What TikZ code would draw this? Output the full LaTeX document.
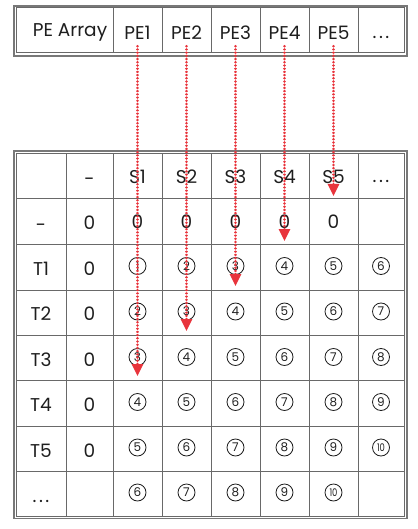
\documentclass[tikz,border=0pt]{standalone}
\usepackage{fontspec}
\setmainfont{Poppins}
\usetikzlibrary{arrows.meta}
\definecolor{gridc}{RGB}{105,105,105}
\definecolor{framec}{RGB}{120,120,120}
\definecolor{arrowred}{RGB}{232,52,60}
\definecolor{txt}{RGB}{30,30,30}
\tikzset{
  cellline/.style={draw=gridc, line width=1pt},
  frameline/.style={draw=framec, line width=1.3pt},
  lbl/.style={font=\fontsize{18.5}{22}\selectfont, text=txt, inner sep=0pt},
  circ/.style={circle, draw=txt, line width=0.8pt, minimum size=17pt, inner sep=0pt,
     font=\fontsize{12}{14}\selectfont, text=txt},
  pelbl/.style={lbl, minimum height=27pt},
  flow/.style={draw=arrowred, line width=2.6pt, line cap=round, dash pattern=on 0.01pt off 3.2pt,
     -{Triangle[width=11pt,length=12pt,fill=arrowred,line cap=butt]}},
}
\newcommand{\eldots}{.\hspace{2.5pt}.\hspace{2.5pt}.}
\newcommand{\cnum}[1]{\ifnum#1>9 \scalebox{0.8}[1]{\fontsize{10.5}{12}\selectfont #1}\else #1\fi}
\begin{document}
\begin{tikzpicture}[x=1pt,y=-1pt]
\useasboundingbox (0,0) rectangle (417,529);
% ---------- top table ----------
\draw[frameline] (14,6) rectangle (407,56);
\draw[cellline] (16,8) rectangle (404,53);
\foreach \x in {113,162,211,260,309,358} \draw[cellline] (\x,8) -- (\x,53);
\node[lbl] (pearr) at (70,32.5) {PE Array};
\node[pelbl] (pe1) at (137.5,32.5) {PE1};
\node[pelbl] (pe2) at (186.5,32.5) {PE2};
\node[pelbl] (pe3) at (235.5,32.5) {PE3};
\node[pelbl] (pe4) at (284.5,32.5) {PE4};
\node[pelbl] (pe5) at (333.5,32.5) {PE5};
\node[lbl, anchor=base] (pedots) at (381,39) {\eldots};
% ---------- bottom table ----------
\draw[frameline] (14,151) rectangle (407,518.5);
\draw[cellline] (16,153.5) rectangle (404,516);
\foreach \x in {66,113,162,211,260,309,358} \draw[cellline] (\x,153.5) -- (\x,516);
\foreach \y in {199,244.5,290,335,380.5,426,471} \draw[cellline] (16,\y) -- (404,\y);
% header row
\node[lbl] (h0) at (89.5,182) {-};
\node[lbl] (h1) at (137.5,177) {S1};
\node[lbl] (h2) at (186.5,177) {S2};
\node[lbl] (h3) at (235.5,177) {S3};
\node[lbl] (h4) at (284.5,177) {S4};
\node[lbl] (h5) at (333.5,177) {S5};
\node[lbl, anchor=base] (h6) at (381,183) {\eldots};
% row labels
\node[lbl] (r0) at (41,228) {-};
\node[lbl] (r1) at (41,269) {T1};
\node[lbl] (r2) at (41,314) {T2};
\node[lbl] (r3) at (41,360) {T3};
\node[lbl] (r4) at (41,405) {T4};
\node[lbl] (r5) at (41,450.5) {T5};
\node[lbl, anchor=base] (r6) at (41,502) {\eldots};
% zero column
\foreach \i/\y in {0/223,1/269,2/314,3/360,4/405,5/450.5}
  \node[lbl] (z\i) at (89.5,\y) {0};
% zero row
\foreach \j/\x in {1/137.5,2/186.5,3/235.5,4/284.5,5/333.5}
  \node[lbl] (zz\j) at (\x,222) {0};
% circled numbers
\foreach \i/\y in {1/266,2/311.5,3/357,4/402,5/447.5,6/492.5}{
  \foreach \j/\x in {1/137.5,2/186.5,3/235.5,4/284.5,5/333.5,6/381}{
    \pgfmathtruncatemacro{\n}{\i+\j-1}
    \ifnum\n<11
      \ifnum\i=6 \ifnum\j=6 \else
        \node[circ] (c\i\j) at (\x,\y) {\cnum{\n}};
      \fi\else
        \node[circ] (c\i\j) at (\x,\y) {\cnum{\n}};
      \fi
    \fi
  }
}
% ---------- arrows ----------
\coordinate (e1) at (137.5,376);
\coordinate (e2) at (186.5,331);
\coordinate (e3) at (235.5,286);
\coordinate (e4) at (284.5,241);
\coordinate (e5) at (333.5,196);
\draw[flow] (pe1.south) -- (e1);
\draw[flow] (pe2.south) -- (e2);
\draw[flow] (pe3.south) -- (e3);
\draw[flow] (pe4.south) -- (e4);
\draw[flow] (pe5.south) -- (e5);
\end{tikzpicture}
\end{document}
